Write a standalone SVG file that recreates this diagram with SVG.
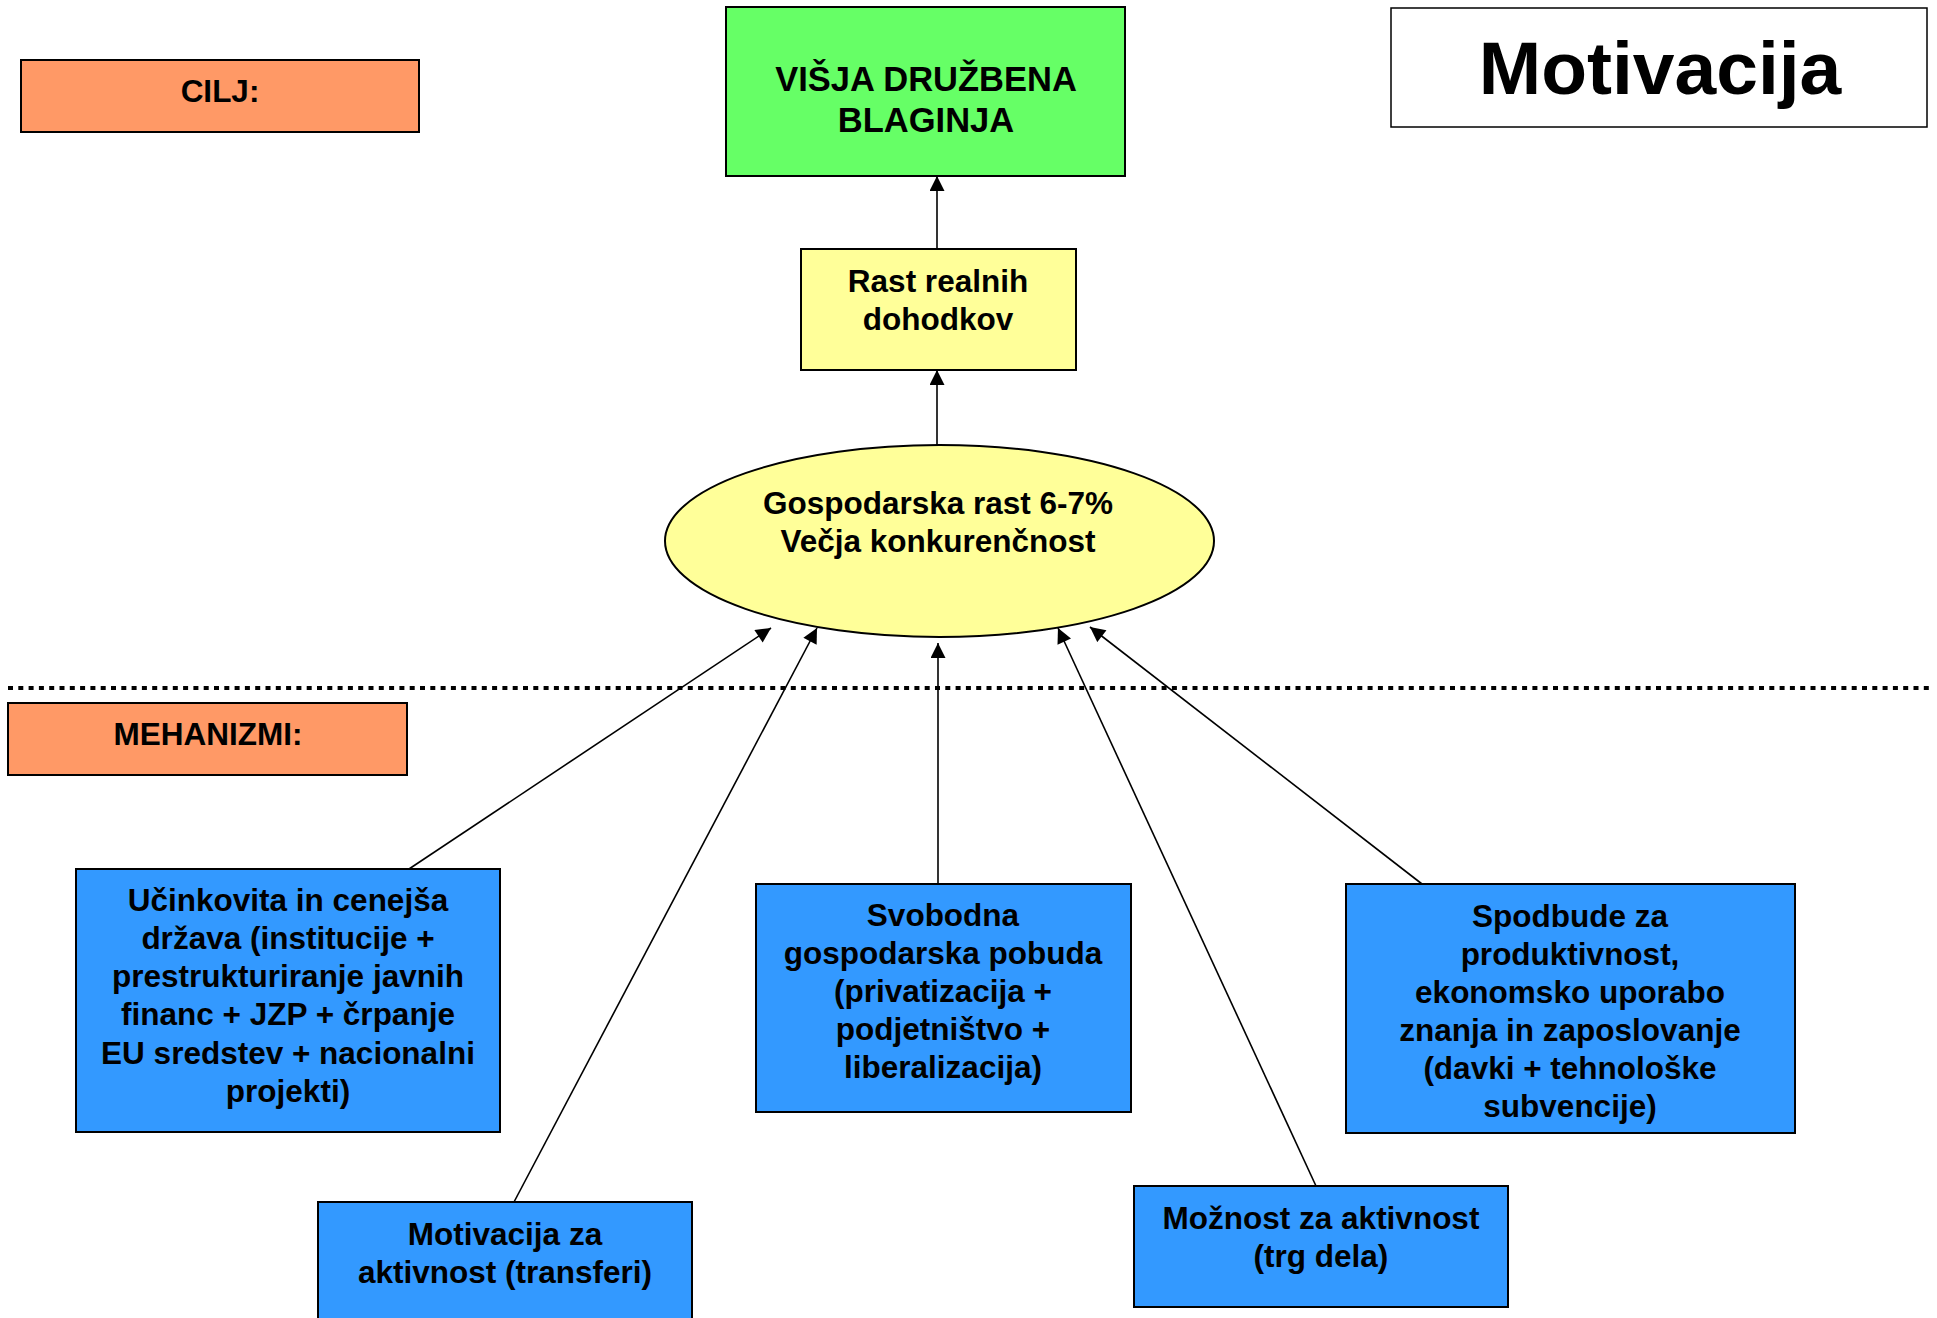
<svg xmlns="http://www.w3.org/2000/svg" width="1937" height="1318" viewBox="0 0 1937 1318">
<style>
  .box { stroke: #000; stroke-width: 2; }
  .orange { fill: #FF9966; }
  .green { fill: #66FF66; }
  .yellow { fill: #FFFF99; }
  .blue { fill: #3399FF; }
  .white { fill: #FFFFFF; }
  text { font-family: "Liberation Sans", Arial, sans-serif; font-weight: bold; text-anchor: middle; fill: #000; font-size: 31.5px; }
  .big { font-size: 34.5px; }
  .title { font-size: 75px; }
  .conn { stroke: #000; stroke-width: 1.6; fill: none; marker-end: url(#arrow); }
  .sep { stroke: #000; stroke-width: 4; stroke-dasharray: 5 5.3; fill: none; }
</style>
<defs>
  <marker id="arrow" viewBox="0 0 16 16" refX="16" refY="8" markerWidth="16" markerHeight="15" orient="auto" markerUnits="userSpaceOnUse">
    <path d="M0,0 L16,8 L0,16 z" fill="#000"/>
  </marker>
</defs>
<rect width="1937" height="1318" fill="#FFFFFF"/>

<g id="separator">
  <line class="sep" x1="8" y1="688" x2="1930" y2="688"/>
</g>

<g id="connectors">
  <line class="conn" x1="937" y1="250" x2="937" y2="176"/>
  <line class="conn" x1="937" y1="445" x2="937" y2="370"/>
  <line class="conn" x1="409" y1="869" x2="771" y2="628"/>
  <line class="conn" x1="514" y1="1202" x2="817" y2="628"/>
  <line class="conn" x1="938" y1="884" x2="938" y2="643"/>
  <line class="conn" x1="1316" y1="1186" x2="1058" y2="628"/>
  <line class="conn" x1="1422" y1="884" x2="1090" y2="627"/>
</g>

<g id="cilj">
  <rect class="box orange" x="21" y="60" width="398" height="72"/>
  <text x="220" y="102">CILJ:</text>
</g>

<g id="visja-druzbena-blaginja">
  <rect class="box green" x="726" y="7" width="399" height="169"/>
  <text class="big" x="926" y="91">VIŠJA DRUŽBENA</text>
  <text class="big" x="926" y="132">BLAGINJA</text>
</g>

<g id="motivacija-title">
  <rect class="box white" x="1391" y="8" width="536" height="119" style="stroke-width:1.5"/>
  <text class="title" x="1660" y="94">Motivacija</text>
</g>

<g id="rast-realnih-dohodkov">
  <rect class="box yellow" x="801" y="249" width="275" height="121"/>
  <text x="938" y="292">Rast realnih</text>
  <text x="938" y="330">dohodkov</text>
</g>

<g id="gospodarska-rast">
  <ellipse class="box yellow" cx="939.5" cy="541" rx="274.5" ry="96"/>
  <text x="938" y="514">Gospodarska rast 6-7%</text>
  <text x="938" y="552">Večja konkurenčnost</text>
</g>

<g id="mehanizmi">
  <rect class="box orange" x="8" y="703" width="399" height="72"/>
  <text x="208" y="745">MEHANIZMI:</text>
</g>

<g id="ucinkovita-drzava">
  <rect class="box blue" x="76" y="869" width="424" height="263"/>
  <text x="288" y="911">Učinkovita in cenejša</text>
  <text x="288" y="949">država (institucije +</text>
  <text x="288" y="987">prestrukturiranje javnih</text>
  <text x="288" y="1025">financ + JZP + črpanje</text>
  <text x="288" y="1064">EU sredstev + nacionalni</text>
  <text x="288" y="1102">projekti)</text>
</g>

<g id="svobodna-pobuda">
  <rect class="box blue" x="756" y="884" width="375" height="228"/>
  <text x="943" y="926">Svobodna</text>
  <text x="943" y="964">gospodarska pobuda</text>
  <text x="943" y="1002">(privatizacija +</text>
  <text x="943" y="1040">podjetništvo +</text>
  <text x="943" y="1078">liberalizacija)</text>
</g>

<g id="spodbude">
  <rect class="box blue" x="1346" y="884" width="449" height="249"/>
  <text x="1570" y="927">Spodbude za</text>
  <text x="1570" y="965">produktivnost,</text>
  <text x="1570" y="1003">ekonomsko uporabo</text>
  <text x="1570" y="1041">znanja in zaposlovanje</text>
  <text x="1570" y="1079">(davki + tehnološke</text>
  <text x="1570" y="1117">subvencije)</text>
</g>

<g id="motivacija-za-aktivnost">
  <rect class="box blue" x="318" y="1202" width="374" height="130"/>
  <text x="505" y="1245">Motivacija za</text>
  <text x="505" y="1283">aktivnost (transferi)</text>
</g>

<g id="moznost-za-aktivnost">
  <rect class="box blue" x="1134" y="1186" width="374" height="121"/>
  <text x="1321" y="1229">Možnost za aktivnost</text>
  <text x="1321" y="1267">(trg dela)</text>
</g>
</svg>
